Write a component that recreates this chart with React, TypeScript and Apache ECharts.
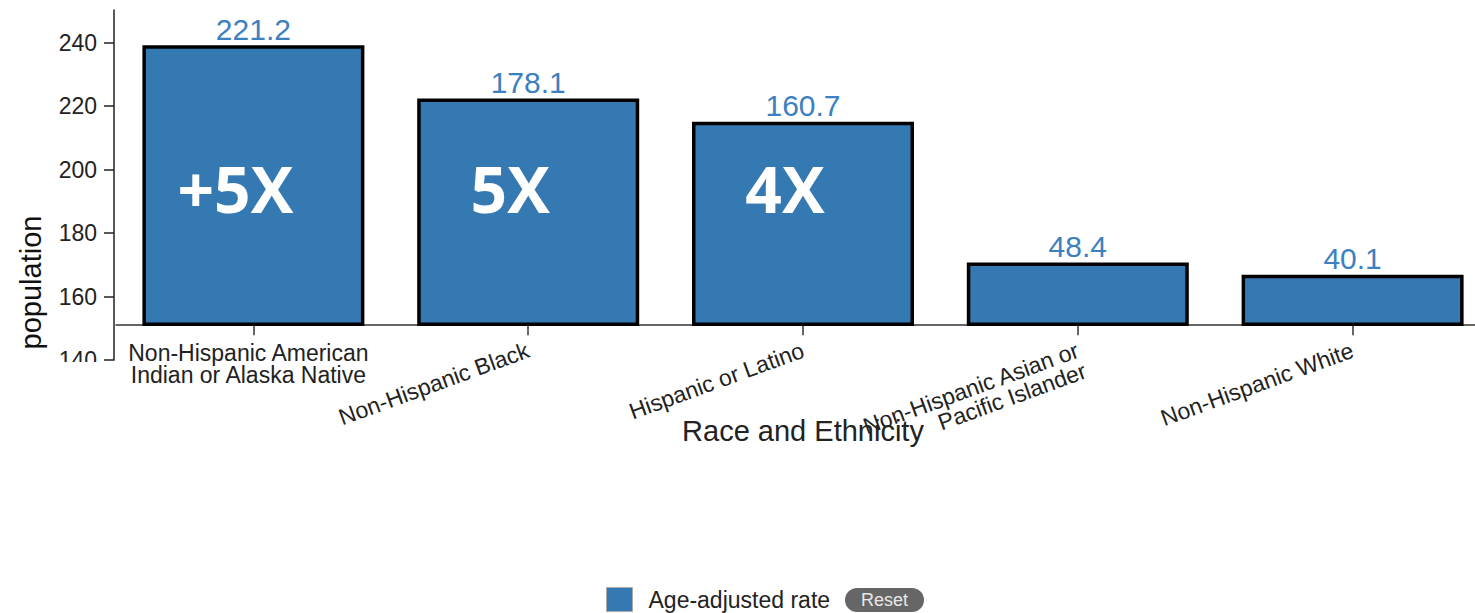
import React, { useEffect, useRef } from 'react';
import * as echarts from 'echarts';

const categories = [
  'Non-Hispanic American\nIndian or Alaska Native',
  'Non-Hispanic Black',
  'Hispanic or Latino',
  'Non-Hispanic Asian or\nPacific Islander',
  'Non-Hispanic White',
];
const barValues = [239.2, 222.4, 215.1, 170.7, 166.9];
const rateLabels = ['221.2', '178.1', '160.7', '48.4', '40.1'];
const ratioLabels = ['+5X', '5X', '4X', '', ''];
const seriesName = 'Age-adjusted rate';
const yMin = 140;
const yMax = 250.3;
const yStep = 20;
const barAxisMin = 151.25;
const overlayLevel = 194;

const FONT = '"Liberation Sans", Arial, Helvetica, sans-serif';
const BAR_COLOR = '#3579b3';

export default function App() {
  const ref = useRef<HTMLDivElement>(null);

  useEffect(() => {
    if (!ref.current) return;
    const chart = echarts.init(ref.current, undefined, { renderer: 'svg' });
    const option: any = {
      animation: false,
      grid: [
        { left: 116, top: 10, width: 1374, height: 314.3, containLabel: false, outerBoundsMode: 'none' },
        { left: 114, top: 10, width: 100, height: 350, containLabel: false, outerBoundsMode: 'none' },
      ],
      xAxis: [
        {
          type: 'category',
          gridIndex: 0,
          position: 'bottom',
          data: categories,
          boundaryGap: true,
          axisLine: { show: true, onZero: false, lineStyle: { color: '#333', width: 1.5 } },
          axisTick: { show: true, interval: 0, alignWithLabel: true, length: 11, lineStyle: { color: '#333', width: 1.5 } },
          axisLabel: {
            interval: (i: number) => i === 0,
            margin: 18,
            fontSize: 23,
            lineHeight: 22,
            color: '#222',
            fontFamily: FONT,
            align: 'center',
            padding: [0, 10, 0, 0],
            hideOverlap: false,
          },
          splitLine: { show: false },
          name: 'Race and Ethnicity',
          nameLocation: 'middle',
          nameGap: 92,
          nameTextStyle: { fontSize: 29, color: '#222', fontFamily: FONT },
        },
        {
          type: 'category',
          gridIndex: 0,
          position: 'bottom',
          data: categories,
          boundaryGap: true,
          axisLine: { show: false, onZero: false },
          axisTick: { show: false },
          splitLine: { show: false },
          axisLabel: {
            interval: (i: number) => i > 0,
            rotate: 20,
            margin: 25,
            fontSize: 23,
            lineHeight: 22,
            color: '#222',
            fontFamily: FONT,
            hideOverlap: false,
            formatter: (v: string) => (v.indexOf('\n') >= 0 ? ' \n' + v : v),
          },
        },
        { type: 'value', gridIndex: 1, show: false },
      ],
      yAxis: [
        { type: 'value', gridIndex: 0, min: barAxisMin, max: yMax, show: false, splitLine: { show: false } },
        {
          type: 'value',
          gridIndex: 1,
          min: yMin,
          max: yMax,
          interval: yStep,
          axisLine: { show: true, lineStyle: { color: '#222', width: 1.5 } },
          axisTick: { show: true, length: 10, lineStyle: { color: '#222', width: 1.5 } },
          axisLabel: {
            margin: 17,
            fontSize: 23,
            color: '#222',
            fontFamily: FONT,
            showMaxLabel: false,
            formatter: (v: number) => (Math.abs(v % yStep) < 1e-6 ? String(v) : ''),
          },
          splitLine: { show: false },
        },
      ],
      legend: {
        data: [seriesName],
        left: 601,
        top: 582,
        icon: 'rect',
        itemWidth: 26,
        itemHeight: 24,
        selectedMode: false,
        itemStyle: { color: BAR_COLOR, borderColor: '#aaa', borderWidth: 1 },
        textStyle: { fontSize: 23, color: '#222', fontFamily: FONT, padding: [0, 0, 0, 11] },
      },
      series: [
        {
          name: seriesName,
          type: 'bar',
          xAxisIndex: 0,
          yAxisIndex: 0,
          data: barValues,
          barWidth: 222,
          clip: true,
          itemStyle: { color: BAR_COLOR, borderColor: '#000', borderWidth: 3.5 },
          label: {
            show: true,
            position: 'top',
            distance: 1,
            fontSize: 30,
            color: '#3d80c0',
            fontFamily: FONT,
            formatter: (p: any) => rateLabels[p.dataIndex],
          },
        },
        {
          name: 'ratio',
          type: 'scatter',
          xAxisIndex: 0,
          yAxisIndex: 0,
          symbolSize: 0,
          data: categories.map((_, i) => [i, overlayLevel]),
          silent: true,
          z: 5,
          itemStyle: { opacity: 1 },
          label: {
            show: true,
            position: 'inside',
            offset: [-18, 0],
            fontSize: 64,
            fontWeight: 'bold',
            color: '#ffffff',
            opacity: 1,
            textBorderWidth: 0,
            fontFamily: '"Open Sans", "Noto Sans", sans-serif',
            formatter: (p: any) => ratioLabels[p.dataIndex],
          },
        },
      ],
      graphic: [
        {
          type: 'rect',
          left: 0,
          top: 362,
          z: 100,
          shape: { width: 112, height: 24 },
          style: { fill: '#fff' },
        },
        {
          type: 'text',
          x: 31,
          y: 282.5,
          rotation: Math.PI / 2,
          style: {
            text: 'population',
            fontSize: 29,
            fontFamily: FONT,
            fill: '#111',
            align: 'center',
            verticalAlign: 'middle',
            textAlign: 'center',
            textVerticalAlign: 'middle',
          },
        },
        {
          type: 'group',
          left: 845,
          top: 588,
          children: [
            { type: 'rect', shape: { x: 0, y: 0, width: 79, height: 24, r: 12 }, style: { fill: '#666' } },
            {
              type: 'text',
              x: 39.5,
              y: 12,
              style: {
                text: 'Reset',
                fontSize: 18,
                fontFamily: FONT,
                fill: '#e8e8e8',
                align: 'center',
                verticalAlign: 'middle',
                textAlign: 'center',
                textVerticalAlign: 'middle',
              },
            },
          ],
        },
      ],
    };
    chart.setOption(option);
    return () => chart.dispose();
  }, []);

  return (
    <div style={{ position: 'absolute', left: 0, top: 0, width: 1475, height: 613, overflow: 'hidden', background: '#fff' }}>
      <div ref={ref} style={{ width: 1500, height: 613 }} />
    </div>
  );
}
